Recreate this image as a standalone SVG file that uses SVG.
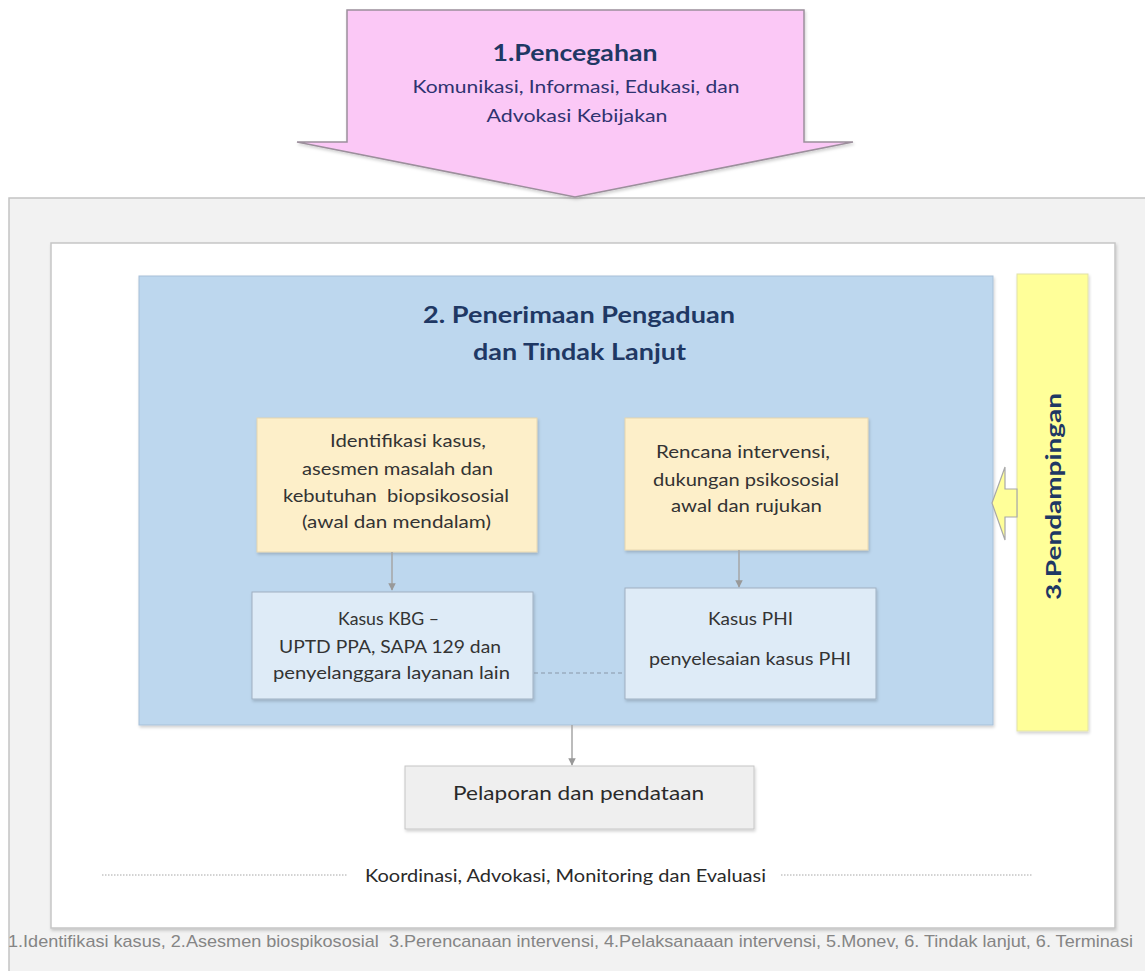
<svg xmlns="http://www.w3.org/2000/svg" width="1145" height="971" viewBox="0 0 1145 971">
<style>
.t{font-family:Lato,"Open Sans","Liberation Sans",sans-serif;}
.title{font-weight:bold;fill:#1f3864;}
.body{fill:#333333;font-size:17px;}
.pinktxt{fill:#2f3370;font-size:18px;}
.foot{font-family:"Liberation Sans",Arial,sans-serif;fill:#858585;font-size:17px;}
.conn{stroke:#a6a6a6;stroke-width:1.5;fill:none;}
</style>
<defs>
<marker id="ah" viewBox="0 0 10 10" refX="9" refY="5" markerWidth="5" markerHeight="5" orient="auto" markerUnits="strokeWidth">
<path d="M0,0 L10,5 L0,10 z" fill="#999"/>
</marker>
<filter id="sh" x="-5%" y="-5%" width="110%" height="115%">
<feDropShadow dx="1" dy="2" stdDeviation="1.5" flood-color="#000" flood-opacity="0.18"/>
</filter>
</defs>
<rect width="1145" height="971" fill="#ffffff"/>

<g id="outer">
<rect x="9" y="198" width="1150" height="790" fill="#f2f2f2" stroke="#c4c4c4" stroke-width="1.5"/>
</g>

<g id="pencegahan">
<polygon points="347,10 804,10 804,142 853,142 575,197 297,142 347,142" fill="#fbc8f6" stroke="#9c8f9c" stroke-width="1.5" filter="url(#sh)"/>
<text class="t title" x="575" y="61" font-size="22" text-anchor="middle" textLength="165" lengthAdjust="spacingAndGlyphs">1.Pencegahan</text>
<text class="t pinktxt" x="576" y="93" text-anchor="middle" textLength="327" lengthAdjust="spacingAndGlyphs">Komunikasi, Informasi, Edukasi, dan</text>
<text class="t pinktxt" x="577" y="122" text-anchor="middle" textLength="181" lengthAdjust="spacingAndGlyphs">Advokasi Kebijakan</text>
</g>

<g id="inner">
<rect x="51" y="243" width="1064" height="685" fill="#ffffff" stroke="#c6c6c6" stroke-width="1.5" filter="url(#sh)"/>
</g>

<g id="penerimaan">
<rect x="139" y="276" width="854" height="449" fill="#bdd7ee" stroke="#a7c0d8" stroke-width="1" filter="url(#sh)"/>
<text class="t title" x="579" y="323" font-size="22" text-anchor="middle" textLength="312" lengthAdjust="spacingAndGlyphs">2. Penerimaan Pengaduan</text>
<text class="t title" x="579.5" y="360" font-size="22" text-anchor="middle" textLength="213" lengthAdjust="spacingAndGlyphs">dan Tindak Lanjut</text>
</g>

<g id="identifikasi">
<rect x="257" y="418" width="280" height="134" fill="#fdefc9" stroke="#e6d6b0" stroke-width="1" filter="url(#sh)"/>
<text class="t body" x="330" y="447" textLength="156" lengthAdjust="spacingAndGlyphs">Identifikasi kasus,</text>
<text class="t body" x="302" y="475" textLength="191" lengthAdjust="spacingAndGlyphs">asesmen masalah dan</text>
<text class="t body" x="283" y="502" textLength="226" lengthAdjust="spacingAndGlyphs" xml:space="preserve">kebutuhan  biopsikososial</text>
<text class="t body" x="302" y="528" textLength="189" lengthAdjust="spacingAndGlyphs">(awal dan mendalam)</text>
</g>

<g id="rencana">
<rect x="625" y="418" width="243" height="132" fill="#fdefc9" stroke="#e6d6b0" stroke-width="1" filter="url(#sh)"/>
<text class="t body" x="656" y="458" textLength="174" lengthAdjust="spacingAndGlyphs">Rencana intervensi,</text>
<text class="t body" x="653" y="486" textLength="186" lengthAdjust="spacingAndGlyphs">dukungan psikososial</text>
<text class="t body" x="671" y="512" textLength="151" lengthAdjust="spacingAndGlyphs">awal dan rujukan</text>
</g>

<g id="kbg">
<rect x="252" y="592" width="281" height="107" fill="#deebf7" stroke="#9fb0c2" stroke-width="1" filter="url(#sh)"/>
<text class="t body" x="338" y="625" textLength="101" lengthAdjust="spacingAndGlyphs">Kasus KBG –</text>
<text class="t body" x="279" y="653" textLength="222" lengthAdjust="spacingAndGlyphs">UPTD PPA, SAPA 129 dan</text>
<text class="t body" x="273" y="679" textLength="237" lengthAdjust="spacingAndGlyphs">penyelanggara layanan lain</text>
</g>

<g id="phi">
<rect x="625" y="588" width="251" height="111" fill="#deebf7" stroke="#9fb0c2" stroke-width="1" filter="url(#sh)"/>
<text class="t body" x="708" y="625" textLength="85" lengthAdjust="spacingAndGlyphs">Kasus PHI</text>
<text class="t body" x="649" y="665" textLength="202" lengthAdjust="spacingAndGlyphs">penyelesaian kasus PHI</text>
</g>

<g id="pendampingan">
<rect x="1017" y="274" width="71" height="457" fill="#ffff99" stroke="#e2e2a8" stroke-width="1" filter="url(#sh)"/>
<polygon points="1017,489 1005,489 1005,467 992,503 1005,540 1005,517 1017,517" fill="#ffff99" stroke="#a8a8a8" stroke-width="1.2"/>
<text class="t title" transform="translate(1061,496.5) rotate(-90)" x="0" y="0" font-size="21" text-anchor="middle" fill="#1a1a2e" textLength="207" lengthAdjust="spacingAndGlyphs">3.Pendampingan</text>
</g>

<g id="pelaporan">
<rect x="405" y="766" width="349" height="63" fill="#efefef" stroke="#c6c6c6" stroke-width="1" filter="url(#sh)"/>
<text class="t" x="453" y="800" font-size="19" fill="#2a2a2a" textLength="251" lengthAdjust="spacingAndGlyphs">Pelaporan dan pendataan</text>
</g>

<g id="koordinasi">
<line x1="102" y1="875" x2="347" y2="875" stroke="#a6a6a6" stroke-width="1" stroke-dasharray="1.5,1.5"/>
<line x1="781" y1="875" x2="1033" y2="875" stroke="#a6a6a6" stroke-width="1" stroke-dasharray="1.5,1.5"/>
<text class="t" x="365" y="882" font-size="18" fill="#2a2a2a" textLength="401" lengthAdjust="spacingAndGlyphs">Koordinasi, Advokasi, Monitoring dan Evaluasi</text>
</g>

<g id="footnote">
<text class="foot" x="8" y="947" textLength="1125" lengthAdjust="spacingAndGlyphs" xml:space="preserve">1.Identifikasi kasus, 2.Asesmen biospikososial  3.Perencanaan intervensi, 4.Pelaksanaaan intervensi, 5.Monev, 6. Tindak lanjut, 6. Terminasi</text>
</g>

<g id="connectors">
<line class="conn" x1="392" y1="552" x2="392" y2="590" marker-end="url(#ah)"/>
<line class="conn" x1="739" y1="550" x2="739" y2="587" marker-end="url(#ah)"/>
<line class="conn" x1="572" y1="725" x2="572" y2="765" marker-end="url(#ah)"/>
<line x1="534" y1="673" x2="624" y2="673" stroke="#8a98a8" stroke-width="1.2" stroke-dasharray="4,3"/>
</g>
</svg>
